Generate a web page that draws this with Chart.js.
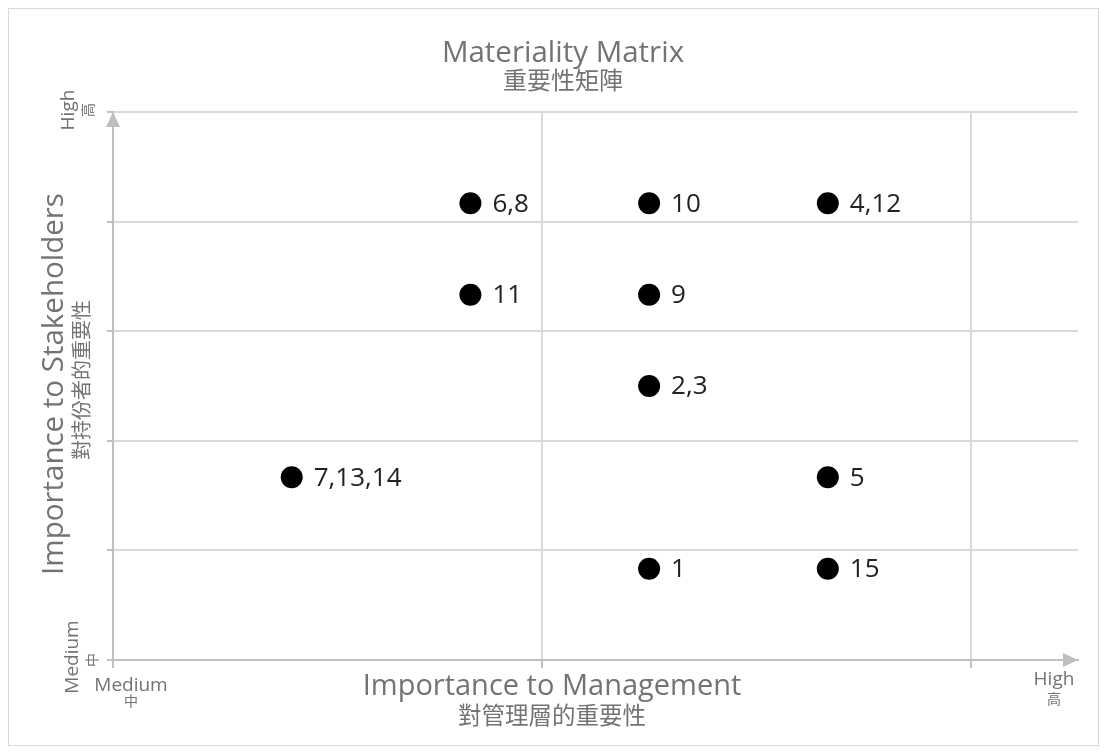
<!DOCTYPE html>
<html>
<head>
<meta charset="utf-8">
<script src="https://cdn.jsdelivr.net/npm/chart.js@4"></script>
<style>
  html, body { margin: 0; padding: 0; background: #fff; }
  #wrap { position: relative; width: 1107px; height: 752px; }
</style>
</head>
<body>
<div id="wrap"><canvas id="matrix"></canvas></div>
<script>
// ── data ──────────────────────────────────────
const topicLabels = ['6,8', '10', '4,12', '11', '9', '2,3', '7,13,14', '5', '1', '15'];
const mgmtValues  = [1.0, 1.5, 2.0, 1.0, 1.5, 1.5, 0.5, 2.0, 1.5, 2.0];
const stakeValues = [5, 5, 5, 4, 4, 3, 2, 2, 1, 1];

const xGridValues = [0, 1.2, 2.4];
const yGridValues = [0, 1.2, 2.4, 3.6, 4.8, 6];

const titleLines  = ['Materiality Matrix', '重要性矩陣'];
const xTitleLines = ['Importance to Management', '對管理層的重要性'];
const yTitleLines = ['Importance to Stakeholders', '對持份者的重要性'];
const lowLabel  = ['Medium', '中'];
const highLabel = ['High', '高'];

const FONT = '"Open Sans", "Noto Sans CJK TC", sans-serif';
const GREY = '#737373';

function txt(ctx, s, x, y, size, align, base, rot) {
  ctx.save();
  ctx.translate(x, y);
  if (rot) ctx.rotate(-Math.PI / 2);
  ctx.font = size + 'px ' + FONT;
  ctx.fillStyle = GREY;
  ctx.textAlign = align;
  ctx.textBaseline = base;
  ctx.fillText(s, 0, 0);
  ctx.restore();
}

// frame, titles, axis arrows, tick words
const decorPlugin = {
  id: 'decor',
  beforeDraw(chart) {
    const ctx = chart.ctx;
    ctx.save();
    ctx.strokeStyle = '#d9d9d9';
    ctx.lineWidth = 1;
    ctx.strokeRect(8.5, 8.5, 1090, 737);
    ctx.restore();
  },
  afterDraw(chart) {
    const ctx = chart.ctx;
    const a = chart.chartArea;

    // arrows
    ctx.save();
    ctx.fillStyle = '#bfbfbf';
    ctx.beginPath();
    ctx.moveTo(a.left, a.top);
    ctx.lineTo(a.left - 7, a.top + 15);
    ctx.lineTo(a.left + 7, a.top + 15);
    ctx.closePath();
    ctx.fill();
    ctx.beginPath();
    ctx.moveTo(a.right, a.bottom);
    ctx.lineTo(a.right - 15, a.bottom - 7);
    ctx.lineTo(a.right - 15, a.bottom + 7);
    ctx.closePath();
    ctx.fill();
    ctx.restore();

    // chart title
    txt(ctx, titleLines[0], 563, 62, 29.5, 'center', 'alphabetic');
    txt(ctx, titleLines[1], 563, 82, 24, 'center', 'middle');

    // axis titles
    txt(ctx, xTitleLines[0], 552, 695, 29, 'center', 'alphabetic');
    txt(ctx, xTitleLines[1], 552, 717, 23.5, 'center', 'middle');
    txt(ctx, yTitleLines[0], 63, 384, 29.5, 'center', 'alphabetic', true);
    txt(ctx, yTitleLines[1], 83, 380, 20, 'center', 'middle', true);

    // end words on the y axis
    txt(ctx, highLabel[0], 74, 110, 19, 'center', 'alphabetic', true);
    txt(ctx, highLabel[1], 89, 110, 14, 'center', 'middle', true);
    txt(ctx, lowLabel[0], 78, 657, 19, 'center', 'alphabetic', true);
    txt(ctx, lowLabel[1], 93, 660, 14, 'center', 'middle', true);

    // end words on the x axis
    txt(ctx, lowLabel[0], 131, 691, 19, 'center', 'alphabetic');
    txt(ctx, lowLabel[1], 131, 702, 14, 'center', 'middle');
    txt(ctx, highLabel[0], 1054, 685, 19, 'center', 'alphabetic');
    txt(ctx, highLabel[1], 1054, 700, 14, 'center', 'middle');
  }
};

// topic numbers next to each dot
const pointLabelPlugin = {
  id: 'pointLabels',
  afterDatasetsDraw(chart) {
    const ctx = chart.ctx;
    const meta = chart.getDatasetMeta(0);
    ctx.save();
    ctx.font = '26px ' + FONT;
    ctx.fillStyle = '#222';
    ctx.textAlign = 'left';
    ctx.textBaseline = 'middle';
    meta.data.forEach((pt, i) => {
      ctx.fillText(topicLabels[i], pt.x + 22, pt.y + 1);
    });
    ctx.restore();
  }
};

const points = mgmtValues.map((v, i) => ({ x: v, y: stakeValues[i] }));

new Chart(document.getElementById('matrix'), {
  type: 'scatter',
  data: {
    datasets: [{
      data: points,
      pointRadius: 11,
      pointHoverRadius: 11,
      backgroundColor: '#000',
      borderColor: '#000',
      borderWidth: 0
    }]
  },
  options: {
    responsive: true,
    maintainAspectRatio: false,
    animation: false,
    events: [],
    layout: {
      autoPadding: false,
      padding: { left: 107, top: 112, right: 29, bottom: 84 }
    },
    plugins: {
      legend: { display: false },
      tooltip: { enabled: false },
      title: { display: false }
    },
    scales: {
      x: {
        type: 'linear',
        min: 0,
        max: 2.7,
        afterBuildTicks: s => { s.ticks = xGridValues.map(v => ({ value: v })); },
        ticks: { display: false },
        grid: { color: '#d9d9d9', lineWidth: 2, tickColor: '#bfbfbf', tickLength: 8 },
        border: { display: true, color: '#bfbfbf', width: 2 }
      },
      y: {
        type: 'linear',
        min: 0,
        max: 6,
        afterBuildTicks: s => { s.ticks = yGridValues.map(v => ({ value: v })); },
        ticks: { display: false },
        grid: { color: '#d9d9d9', lineWidth: 2, tickColor: '#bfbfbf', tickLength: 6 },
        border: { display: true, color: '#bfbfbf', width: 2 }
      }
    }
  },
  plugins: [decorPlugin, pointLabelPlugin]
});
</script>
</body>
</html>
